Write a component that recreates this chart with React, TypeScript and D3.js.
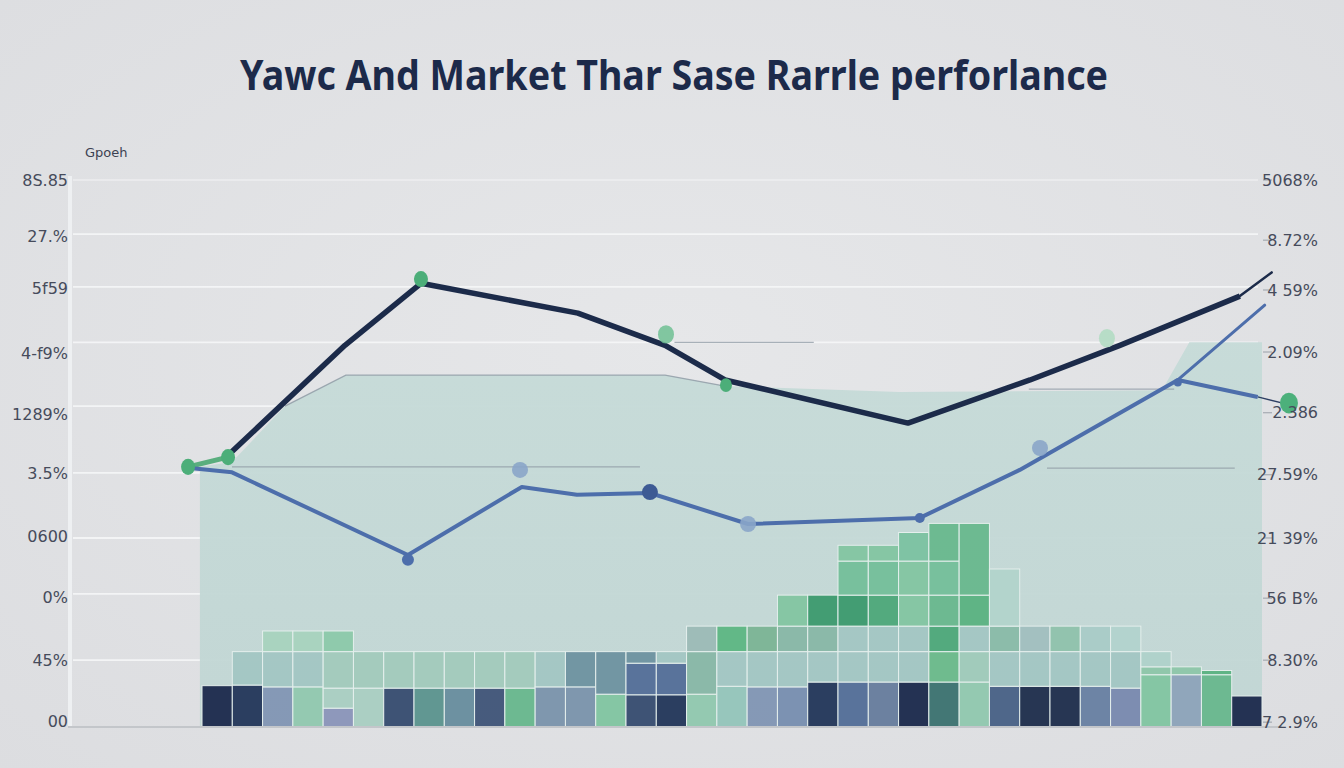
import React from "react";
import * as d3 from "d3";

const title = "Yawc And Market Thar Sase Rarrle perforlance";
const axisCaption = "Gpoeh";

// left axis: grid values, label positions and label texts
const gridValues = [0, 11, 21.9, 31.1, 41.8, 52.8, 63.3, 72.4, 81.1, 90];
const leftLabelValues = [1.0, 10.9, 21.4, 31.3, 41.8, 51.5, 61.4, 72.2, 80.8, 90];
const leftLabels = ["00", "45%", "0%", "0600", "3.5%", "1289%", "4-f9%", "5f59", "27.%", "8S.85"];

// right axis
const rightLabelValues = [0.8, 11, 21.2, 31.1, 41.5, 51.7, 61.7, 71.9, 80.1, 90];
const rightLabels = ["7 2.9%", "8.30%", "56 B%", "21 39%", "27.59%", "2.386", "2.09%", "4 59%", "8.72%", "5068%"];

// market line (dark)
const marketT = [0.86, 4.72, 7.23, 12.41, 15.29, 17.27, 23.31, 27.34, 30.31, 34.27, 35.32];
const marketV = [44.7, 62.8, 73.0, 68.1, 62.8, 57.1, 50.0, 57.1, 62.8, 70.9, 74.8];

// yawc line (blue)
const yawcT = [-0.4, 0.99, 6.8, 10.56, 12.38, 14.79, 18.03, 23.7, 27.0, 32.22, 34.86];
const yawcV = [42.6, 41.9, 28.3, 39.5, 38.2, 38.5, 33.4, 34.4, 42.3, 57.1, 54.3];
const yawcBranchT = [32.22, 35.09];
const yawcBranchV = [57.1, 69.4];
const yawcTailT = [34.86, 35.92];
const yawcTailV = [54.3, 53.0];

// base area
const baseT = [-0.07, 0.99, 2.74, 4.75, 15.29, 17.27, 23.04, 31.7, 32.6, 35];
const baseV = [42.8, 43.6, 52.8, 57.9, 57.9, 56.1, 55.1, 55.4, 63.3, 63.3];

// dots
const greenDotT = [-0.46, 0.86, 7.23, 15.32, 17.3, 29.88, 35.89];
const greenDotV = [42.8, 44.4, 73.7, 64.6, 56.25, 63.98, 53.3];
const greenDotTone = ["mid", "mid", "mid", "soft", "small", "pale", "big"];
const blueDotT = [6.8, 10.5, 14.79, 18.03, 23.7, 27.67, 32.22];
const blueDotV = [27.5, 42.3, 38.65, 33.4, 34.4, 45.9, 56.7];
const blueDotTone = ["mid", "soft", "dark", "soft", "small", "soft", "tiny"];

// thin reference lines [t0, t1, v]
const refT0 = [0.99, 15.6, 27.3, 27.9];
const refT1 = [14.46, 20.2, 32.1, 34.1];
const refV = [42.8, 63.3, 55.6, 42.6];

// stacked cells per period: [top value, tone]
const barStacks: [number, string][][] = [
  [[6.8, "navy"]],
  [[6.9, "navy2"], [12.4, "pale"]],
  [[6.6, "lav"], [12.4, "pale"], [15.8, "foam"]],
  [[6.6, "mintl"], [12.4, "pale"], [15.8, "foam"]],
  [[3.1, "lilac"], [6.4, "foamd"], [12.4, "mintp"], [15.8, "mintq"]],
  [[6.4, "foamd"], [12.4, "mintp"]],
  [[6.4, "slate2"], [12.4, "mintp"]],
  [[6.4, "sea"], [12.4, "mintp"]],
  [[6.4, "haze"], [12.4, "mintp"]],
  [[6.4, "slate"], [12.4, "mintp"]],
  [[6.4, "jade"], [12.4, "mintp"]],
  [[6.6, "lav2"], [12.4, "pale"]],
  [[6.6, "lav2"], [12.4, "steelteal"]],
  [[5.4, "mint"], [12.4, "steelteal"]],
  [[5.3, "slate2"], [10.5, "steel"], [12.4, "steelteal"]],
  [[5.3, "navy2"], [10.5, "steel"], [12.4, "pale"]],
  [[5.4, "mintl"], [12.4, "sage"], [16.6, "sage2"]],
  [[6.7, "pale3"], [12.4, "pale"], [16.6, "green3"]],
  [[6.6, "lav"], [12.4, "pale"], [16.6, "sagegreen"]],
  [[6.6, "lav3"], [12.4, "pale"], [16.6, "sage"], [21.7, "mint"]],
  [[7.4, "navy2"], [12.4, "pale"], [16.6, "sage"], [21.7, "green"]],
  [[7.4, "steel"], [12.4, "pale"], [16.6, "pale"], [21.7, "green"], [27.3, "jade2"], [29.9, "mint"]],
  [[7.4, "dusk2"], [12.4, "pale"], [16.6, "pale"], [21.7, "green4"], [27.3, "jade2"], [29.9, "mint"]],
  [[7.4, "navy"], [12.4, "pale"], [16.6, "pale"], [21.7, "mint"], [27.3, "mint"], [32, "mint2"]],
  [[7.4, "teal"], [12.4, "green5"], [16.6, "green4"], [21.7, "jade"], [27.3, "jade2"], [33.5, "jade"]],
  [[7.4, "mintl"], [12.4, "foam2"], [16.6, "pale"], [21.7, "green2"], [33.5, "jade"]],
  [[6.7, "steel2"], [12.4, "pale"], [16.6, "sage3"], [26, "ghost"]],
  [[6.7, "navy3"], [12.4, "pale"], [16.6, "pale4"]],
  [[6.7, "navy3"], [12.4, "pale"], [16.6, "mintgray"]],
  [[6.7, "dusk"], [12.4, "pale"], [16.6, "pale5"]],
  [[6.4, "dusk3"], [12.4, "pale"], [16.6, "pale6"]],
  [[8.6, "mint"], [9.9, "mint3"], [12.4, "foam3"]],
  [[8.6, "lav4"], [9.9, "mint3"]],
  [[8.6, "jade"], [9.3, "green2"]],
  [[5.1, "navy"]],
];

const tones: Record<string, string> = {
  navy: "#1f2d4f", navy2: "#273a5d", navy3: "#22314f",
  slate: "#43587b", slate2: "#3a4f72", steel: "#56709a", steel2: "#4c6488",
  dusk: "#6b82a4", dusk2: "#6a7f9f", dusk3: "#7b8bb0",
  lav: "#8497b5", lav2: "#7d95ad", lav3: "#7a90b1", lav4: "#8fa5bb", lilac: "#8d96bb",
  teal: "#3f7472", sea: "#5e9590", haze: "#6b8fa0", steelteal: "#7094a2",
  green: "#3f9c70", green2: "#5cb383", green3: "#5fb785", green4: "#50a97c", green5: "#6dbb8c",
  jade: "#6bb98f", jade2: "#76c09c", mint: "#84c6a3", mint2: "#7dc3a3", mint3: "#8fc7aa",
  mintl: "#93c9b0", mintp: "#a3cbbd", mintq: "#8ecaab",
  foam: "#a9d3bf", foam2: "#a0cbbb", foam3: "#b0d2cb", foamd: "#abcfc3",
  pale: "#a4c7c4", pale3: "#96c6bc", pale4: "#a2c0c0", pale5: "#aaccc8", pale6: "#b3d3ce",
  sage: "#8ab9a8", sage2: "#9dbcb8", sage3: "#8bbca9", sagegreen: "#7db597",
  mintgray: "#91c3ad", ghost: "#b3d4cc",
};

const greenDotStyle: Record<string, { fill: string; r: number; op: number }> = {
  mid: { fill: "#4cae79", r: 7, op: 1 },
  soft: { fill: "#6fc093", r: 8, op: 0.85 },
  small: { fill: "#4cae79", r: 6, op: 1 },
  pale: { fill: "#b2dcc3", r: 8, op: 0.9 },
  big: { fill: "#4cb07b", r: 9, op: 1 },
};
const blueDotStyle: Record<string, { fill: string; r: number; op: number }> = {
  mid: { fill: "#4d6eab", r: 6, op: 1 },
  soft: { fill: "#8aa5c9", r: 8, op: 0.9 },
  dark: { fill: "#3d5a94", r: 8, op: 1 },
  small: { fill: "#4d6eab", r: 5, op: 1 },
  tiny: { fill: "#4d6eab", r: 4, op: 1 },
};

const W = 1344;
const H = 768;

export default function App() {
  const x = d3.scaleLinear().domain([0, 35]).range([202, 1262]);
  const y = d3.scaleLinear().domain([0, 90]).range([727, 180]);

  const pts = (t: number[], v: number[]) => t.map((d, i) => [d, v[i]] as [number, number]);
  const line = d3
    .line<[number, number]>()
    .x((d) => x(d[0]))
    .y((d) => y(d[1]));
  const area = d3
    .area<[number, number]>()
    .x((d) => x(d[0]))
    .y0(y(0))
    .y1((d) => y(d[1]));

  const basePts = pts(baseT, baseV);
  const axisFont = "'DejaVu Sans', sans-serif";

  return (
    <div style={{ position: "absolute", left: 0, top: 0 }}>
      <svg width={W} height={H} style={{ display: "block" }}>
        <defs>
          <radialGradient id="bg" cx="50%" cy="45%" r="75%">
            <stop offset="0%" stopColor="#e6e7e9" />
            <stop offset="100%" stopColor="#dcdde0" />
          </radialGradient>
          <linearGradient id="baseFill" x1="0" y1="0" x2="0" y2="1">
            <stop offset="0%" stopColor="#c6dbd8" />
            <stop offset="100%" stopColor="#c1d6d4" />
          </linearGradient>
        </defs>
        <rect width={W} height={H} fill="url(#bg)" />

        <text
          x={W / 2 + 2}
          y={90}
          textAnchor="middle"
          fontFamily="'Noto Sans', sans-serif"
          fontWeight={700}
          fontSize={42}
          fill="#1c2a4a"
          textLength={868}
          lengthAdjust="spacingAndGlyphs"
        >
          {title}
        </text>

        <text x={85} y={157} fontFamily={axisFont} fontSize={13} fill="#3c4252">
          {axisCaption}
        </text>

        {/* grid */}
        {gridValues.map((v, i) => (
          <line
            key={"g" + i}
            x1={73}
            x2={1258}
            y1={y(v)}
            y2={y(v)}
            stroke="#f5f6f7"
            strokeWidth={i === gridValues.length - 1 ? 1.2 : 1.8}
            opacity={i === 0 ? 0 : 0.95}
          />
        ))}
        <line x1={70} x2={70} y1={176} y2={y(0)} stroke="#eef0f2" strokeWidth={4} />

        {/* base area */}
        <path d={area(basePts) ?? ""} fill="url(#baseFill)" opacity={0.95} />
        <path
          d={line(basePts.slice(2, 6)) ?? ""}
          fill="none"
          stroke="#8d99a4"
          strokeWidth={1.3}
          opacity={0.8}
        />

        {/* reference lines */}
        {refV.map((v, i) => (
          <line
            key={"r" + i}
            x1={x(refT0[i])}
            x2={x(refT1[i])}
            y1={y(v)}
            y2={y(v)}
            stroke="#8e99a4"
            strokeWidth={1.2}
            opacity={0.75}
          />
        ))}

        {/* stacked cells */}
        {barStacks.map((stack, i) =>
          stack.map(([top, tone], j) => {
            const bottom = j === 0 ? 0 : stack[j - 1][0];
            return (
              <rect
                key={`b${i}-${j}`}
                x={x(i)}
                width={x(i + 1) - x(i)}
                y={y(top)}
                height={y(bottom) - y(top)}
                fill={tones[tone]}
                stroke="#e6f0ee"
                strokeWidth={1}
                opacity={0.97}
              />
            );
          })
        )}

        <line x1={68} x2={1282} y1={y(0)} y2={y(0)} stroke="#c3c6ca" strokeWidth={2} />

        {/* lines */}
        <path
          d={line(pts([-0.46, 0.86], [42.8, 44.4])) ?? ""}
          fill="none"
          stroke="#5aae7e"
          strokeWidth={5}
          strokeLinecap="round"
        />
        <path
          d={line(pts(yawcTailT, yawcTailV)) ?? ""}
          fill="none"
          stroke="#2d3f63"
          strokeWidth={1.3}
        />
        <path
          d={line(pts(yawcBranchT, yawcBranchV)) ?? ""}
          fill="none"
          stroke="#4d6eab"
          strokeWidth={3}
          strokeLinecap="round"
        />
        <path
          d={line(pts(yawcT, yawcV)) ?? ""}
          fill="none"
          stroke="#4d6eab"
          strokeWidth={4}
          strokeLinejoin="round"
        />
        <path
          d={line(pts(marketT.slice(0, -1), marketV.slice(0, -1))) ?? ""}
          fill="none"
          stroke="#1c2b4a"
          strokeWidth={5.5}
          strokeLinejoin="round"
        />
        <path
          d={line(pts(marketT.slice(-2), marketV.slice(-2))) ?? ""}
          fill="none"
          stroke="#1c2b4a"
          strokeWidth={2.5}
          strokeLinecap="round"
        />

        {/* dots */}
        {blueDotT.map((t, i) => {
          const s = blueDotStyle[blueDotTone[i]];
          return (
            <circle key={"bd" + i} cx={x(t)} cy={y(blueDotV[i])} r={s.r} fill={s.fill} opacity={s.op} />
          );
        })}
        {greenDotT.map((t, i) => {
          const s = greenDotStyle[greenDotTone[i]];
          return (
            <ellipse
              key={"gd" + i}
              cx={x(t)}
              cy={y(greenDotV[i])}
              rx={s.r}
              ry={s.r * 1.15}
              fill={s.fill}
              opacity={s.op}
            />
          );
        })}

        {/* left labels */}
        {leftLabelValues.map((v, i) => (
          <text
            key={"l" + i}
            x={68}
            y={y(v)}
            dy="0.35em"
            textAnchor="end"
            fontFamily={axisFont}
            fontSize={16}
            fill="#464b5b"
          >
            {leftLabels[i]}
          </text>
        ))}

        {/* right labels */}
        {rightLabelValues.map((v, i) => (
          <g key={"rl" + i}>
            <line x1={1263} x2={1272} y1={y(v)} y2={y(v)} stroke="#9aa0a8" strokeWidth={1} />
            <text
              x={1318}
              y={y(v)}
              dy="0.35em"
              textAnchor="end"
              fontFamily={axisFont}
              fontSize={16}
              fill="#464b5b"
            >
              {rightLabels[i]}
            </text>
          </g>
        ))}
      </svg>
    </div>
  );
}
